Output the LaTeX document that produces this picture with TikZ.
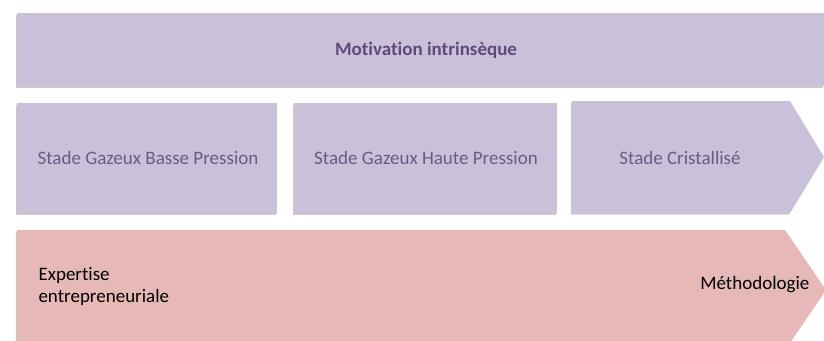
\documentclass[tikz,border=0pt]{standalone}
\usepackage{fontspec}
\setmainfont{Carlito}[Ligatures=NoCommon]
\usetikzlibrary{shadows}
\definecolor{lav}{HTML}{CBC0DA}
\definecolor{pinkf}{HTML}{E6B8B7}
\definecolor{purtxt}{HTML}{5F497A}
\definecolor{purlight}{HTML}{6B5A85}
\tikzset{
  shade box/.style={fill=#1, draw=none, drop shadow={shadow xshift=-1.2pt, shadow yshift=-1.6pt, opacity=0.35, fill=black!60}},
  lbl/.style={font=\fontsize{19}{23}\selectfont, text=purlight},
}
\begin{document}
\begin{tikzpicture}[x=1pt,y=-1pt]
\useasboundingbox (0,0) rectangle (824,340);
% top bar
\path[shade box=lav] (17,13) rectangle (824,86);
\node[font=\bfseries\fontsize{19}{23}\selectfont, text=purtxt] (mot) at (426,50) {Motivation intrinsèque};
% stage boxes
\path[shade box=lav] (17,103) rectangle (277,213);
\node[lbl] (s1) at (148,158) {Stade Gazeux Basse Pression};
\path[shade box=lav] (294,103) rectangle (557,213);
\node[lbl] (s2) at (426,158) {Stade Gazeux Haute Pression};
\path[shade box=lav] (572,101) -- (790,101) -- (824,157) -- (790,213) -- (572,213) -- cycle;
\node[lbl] (s3) at (680,158) {Stade Cristallisé};
% bottom arrow
\path[shade box=pinkf] (17,230) -- (785,230) -- (826,290) -- (785,350) -- (17,350) -- cycle;
\node[font=\fontsize{19}{22}\selectfont, text=black, align=left, anchor=west] (exp) at (35,286) {Expertise\\entrepreneuriale};
\node[font=\fontsize{19}{23}\selectfont, text=black, anchor=east] (meth) at (813,285) {Méthodologie};
\end{tikzpicture}
\end{document}
